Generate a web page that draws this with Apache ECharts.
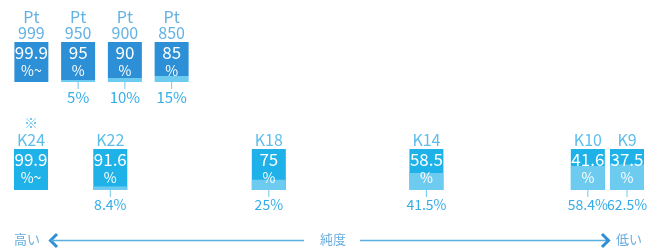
<!DOCTYPE html>
<html>
<head>
<meta charset="utf-8">
<script src="https://cdn.jsdelivr.net/npm/echarts@6/dist/echarts.min.js"></script>
<style>
  html, body { margin: 0; padding: 0; background: #fff; }
  #main { width: 648px; height: 249px; }
</style>
</head>
<body>
<div id="main"></div>
<script>
// プラチナ
const ptNames = ['999', '950', '900', '850']
const ptPurity = [99.9, 95, 90, 85]
const ptImpurity = [0.1, 5, 10, 15]
const ptPurityText = ['99.9', '95', '90', '85']
const ptUnitText = ['%~', '%', '%', '%']
const ptImpurityText = ['', '5%', '10%', '15%']

// ゴールド
const kNames = ['K24', 'K22', 'K18', 'K14', 'K10', 'K9']
const kPurity = [99.9, 91.6, 75, 58.5, 41.6, 37.5]
const kImpurity = [0.1, 8.4, 25, 41.5, 58.4, 62.5]
const kPurityText = ['99.9', '91.6', '75', '58.5', '41.6', '37.5']
const kUnitText = ['%~', '%', '%', '%', '%', '%']
const kImpurityText = ['', '8.4%', '25%', '41.5%', '58.4%', '62.5%']
const kNotes = ['※', '', '', '', '', '']
const total = 100

const FONT = '"Noto Sans CJK JP", "Noto Sans", sans-serif'
const PT_BLUE = '#2d8fd5'
const K_BLUE = '#1fb2e8'
const LIGHT = '#6dcbf0'
const TEXT_BLUE = '#35ade6'

let myChart = echarts.init(document.getElementById('main'))

// 箱の中の数字
function innerLabel(texts, units) {
  return {
    show: true,
    position: 'insideTop',
    distance: 1,
    formatter: p => '{n|' + texts[p.dataIndex] + '}\n{u|' + units[p.dataIndex] + '}',
    rich: {
      n: { fontFamily: FONT, fontSize: 17, lineHeight: 20, color: '#fff', align: 'center' },
      u: { fontFamily: FONT, fontSize: 14, lineHeight: 15, color: '#fff', align: 'center' }
    }
  }
}

// 箱の下の割合
function lowerLabel(texts, size) {
  return {
    show: true,
    position: 'bottom',
    distance: 0,
    formatter: p => texts[p.dataIndex] ? '{t| }\n{v|' + texts[p.dataIndex] + '}' : '',
    rich: {
      t: { width: 1, height: 7, backgroundColor: LIGHT, align: 'center' },
      v: { fontFamily: FONT, fontSize: size, lineHeight: 16, color: TEXT_BLUE, align: 'center' }
    }
  }
}

let option = {
  animation: false,
  grid: [
    { left: 8, width: 187, top: 42, height: 40 },
    { left: 31, right: 21, top: 149, height: 41 }
  ],
  xAxis: [
    { gridIndex: 0, type: 'category', data: ptNames, show: false },
    { gridIndex: 1, type: 'value', min: 0.1, max: 62.5, show: false }
  ],
  yAxis: [
    { gridIndex: 0, type: 'value', min: 0, max: 100, show: false },
    { gridIndex: 1, type: 'value', min: 0, max: 100, show: false }
  ],
  series: [
    {
      type: 'bar', xAxisIndex: 0, yAxisIndex: 0, stack: 'pt', barWidth: 34,
      data: ptImpurity,
      itemStyle: { color: LIGHT },
      label: lowerLabel(ptImpurityText, 15)
    },
    {
      type: 'bar', xAxisIndex: 0, yAxisIndex: 0, stack: 'pt', barWidth: 34,
      data: ptPurity,
      itemStyle: { color: PT_BLUE },
      label: innerLabel(ptPurityText, ptUnitText)
    },
    {
      type: 'scatter', xAxisIndex: 0, yAxisIndex: 0, symbolSize: 1,
      itemStyle: { color: 'rgba(0,0,0,0)' },
      data: ptNames.map(n => [n, total]),
      label: {
        show: true, position: 'top', distance: 1,
        formatter: p => 'Pt\n' + ptNames[p.dataIndex],
        fontFamily: FONT, fontSize: 16, lineHeight: 16, color: '#3a9ddc'
      }
    },
    // K: 全体(純金分)の上に割金分を重ねる
    {
      type: 'bar', xAxisIndex: 1, yAxisIndex: 1, barWidth: 34, barGap: '-100%',
      data: kImpurity.map(x => [x, total]),
      itemStyle: { color: K_BLUE },
      label: innerLabel(kPurityText, kUnitText)
    },
    {
      type: 'bar', xAxisIndex: 1, yAxisIndex: 1, barWidth: 34, barGap: '-100%',
      data: kImpurity.map(x => [x, x]),
      itemStyle: { color: LIGHT },
      label: lowerLabel(kImpurityText, 14)
    },
    {
      type: 'scatter', xAxisIndex: 1, yAxisIndex: 1, symbolSize: 1,
      itemStyle: { color: 'rgba(0,0,0,0)' },
      data: kImpurity.map(x => [x, total]),
      label: {
        show: true, position: 'top', distance: 1,
        formatter: p => (kNotes[p.dataIndex] ? '{s|' + kNotes[p.dataIndex] + '}\n' : '') + '{k|' + kNames[p.dataIndex] + '}',
        rich: {
          s: { fontFamily: FONT, fontSize: 14, lineHeight: 18, color: TEXT_BLUE, align: 'center' },
          k: { fontFamily: FONT, fontSize: 16, lineHeight: 16, color: TEXT_BLUE, align: 'center' }
        }
      }
    }
  ],
  // 純度の矢印
  graphic: [
    { type: 'text', left: 14, top: 233, style: { text: '高い', fontFamily: FONT, fontSize: 13, fill: '#6aaedf' } },
    { type: 'polyline', shape: { points: [[57, 234], [50.5, 240.5], [57, 247]] }, style: { stroke: '#2f8fd6', lineWidth: 3, fill: null } },
    { type: 'line', shape: { x1: 51, y1: 240.5, x2: 304, y2: 240.5 }, style: { stroke: '#5aaee0', lineWidth: 1.5 } },
    { type: 'text', left: 320, top: 233, style: { text: '純度', fontFamily: FONT, fontSize: 13, fill: '#6aaedf' } },
    { type: 'line', shape: { x1: 360, y1: 240.5, x2: 608, y2: 240.5 }, style: { stroke: '#5aaee0', lineWidth: 1.5 } },
    { type: 'polyline', shape: { points: [[602, 234], [608.5, 240.5], [602, 247]] }, style: { stroke: '#2f8fd6', lineWidth: 3, fill: null } },
    { type: 'text', left: 616, top: 233, style: { text: '低い', fontFamily: FONT, fontSize: 13, fill: '#6aaedf' } }
  ]
}

myChart.setOption(option)
</script>
</body>
</html>
